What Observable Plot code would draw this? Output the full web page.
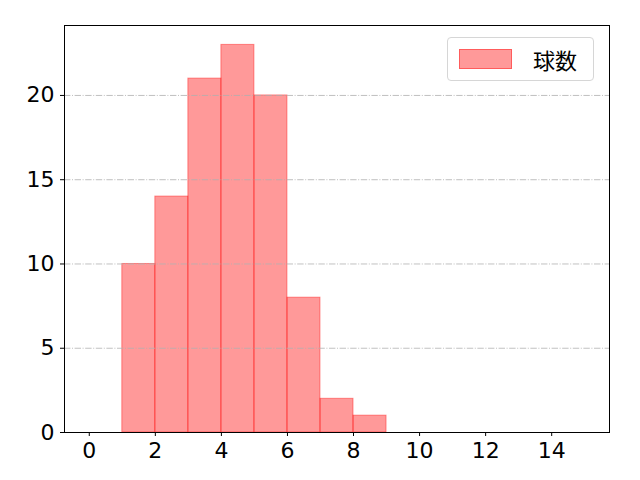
<!DOCTYPE html>
<html>
<head>
<meta charset="utf-8">
<script src="https://cdn.jsdelivr.net/npm/d3@7"></script>
<script src="https://cdn.jsdelivr.net/npm/@observablehq/plot@0.6"></script>
<style>
  body { margin: 0; background: #fff; }
  #wrap { position: relative; width: 640px; height: 480px; }
  #legend {
    position: absolute; left: 447px; top: 37px; width: 147px; height: 44px;
    border: 1px solid #d6d6d6; border-radius: 4px; background: rgba(255,255,255,0.8);
    box-sizing: border-box;
  }
  #legend .sw {
    position: absolute; left: 11px; top: 11px; width: 53px; height: 20px;
    background: rgba(255,0,0,0.4); border: 1px solid rgba(255,0,0,0.4); box-sizing: border-box;
  }
  #legend .lb {
    position: absolute; left: 85px; top: 6px; font-family: "Noto Sans CJK JP", sans-serif;
    font-size: 22px; line-height: 30px; color: #000;
  }
</style>
</head>
<body>
<div id="wrap"></div>
<script>
const binStart = [1, 2, 3, 4, 5, 6, 7, 8];
const binEnd   = [2, 3, 4, 5, 6, 7, 8, 9];
const counts   = [10, 14, 21, 23, 20, 8, 2, 1];
const xTicks = [0, 2, 4, 6, 8, 10, 12, 14];
const yTicks = [0, 5, 10, 15, 20];
const gridTicks = [5, 10, 15, 20];
const seriesName = "球数";

const bins = binStart.map((s, i) => ({x1: s, x2: binEnd[i], y: counts[i]}));

const chart = Plot.plot({
  width: 640,
  height: 480,
  marginLeft: 64,
  marginRight: 31,
  marginTop: 25,
  marginBottom: 48,
  style: {fontFamily: "DejaVu Sans, sans-serif", fontSize: "22px", background: "#fff", color: "#000"},
  x: {domain: [-0.75, 15.75], ticks: xTicks, tickSize: 4, tickPadding: 6, label: null},
  y: {domain: [0, 24.15], ticks: yTicks, tickSize: 4, tickPadding: 6, label: null},
  marks: [
    Plot.rectY(bins, {x1: "x1", x2: "x2", y: "y", fill: "red", fillOpacity: 0.4, stroke: "red", strokeOpacity: 0.4, strokeWidth: 1, inset: 0}),
    Plot.ruleY(gridTicks, {stroke: "#b0b0b0", strokeWidth: 0.8, strokeDasharray: "6.4,1.6,1,1.6"}),
    Plot.frame({stroke: "#000", strokeWidth: 1}),
    Plot.axisX({ticks: xTicks, tickSize: 4, tickPadding: 6, fontSize: 22, label: null}),
    Plot.axisY({ticks: yTicks, tickSize: 4, tickPadding: 6, fontSize: 22, label: null})
  ]
});
const wrap = document.getElementById("wrap");
wrap.appendChild(chart);
const lg = document.createElement("div");
lg.id = "legend";
lg.innerHTML = '<div class="sw"></div><div class="lb"></div>';
lg.querySelector(".lb").textContent = seriesName;
wrap.appendChild(lg);
</script>
</body>
</html>
